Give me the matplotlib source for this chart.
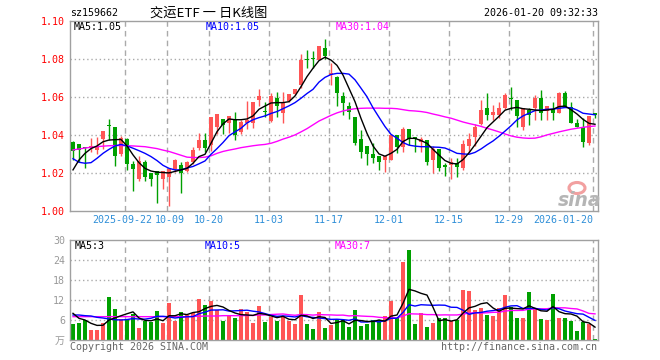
import matplotlib
matplotlib.use('Agg')
import matplotlib.pyplot as plt
from matplotlib.patches import Ellipse

plt.rcParams['font.family'] = ['DejaVu Sans Mono', 'Noto Sans CJK SC']

# ---------------- data ----------------
dates = ['2025-09-09', '2025-09-10', '2025-09-11', '2025-09-12', '2025-09-15', '2025-09-16',
         '2025-09-17', '2025-09-18', '2025-09-19', '2025-09-22', '2025-09-23', '2025-09-24',
         '2025-09-25', '2025-09-26', '2025-09-29', '2025-09-30', '2025-10-09', '2025-10-10',
         '2025-10-13', '2025-10-14', '2025-10-15', '2025-10-16', '2025-10-17', '2025-10-20',
         '2025-10-21', '2025-10-22', '2025-10-23', '2025-10-24', '2025-10-27', '2025-10-28',
         '2025-10-29', '2025-10-30', '2025-10-31', '2025-11-03', '2025-11-04', '2025-11-05',
         '2025-11-06', '2025-11-07', '2025-11-10', '2025-11-11', '2025-11-12', '2025-11-13',
         '2025-11-14', '2025-11-17', '2025-11-18', '2025-11-19', '2025-11-20', '2025-11-21',
         '2025-11-24', '2025-11-25', '2025-11-26', '2025-11-27', '2025-11-28', '2025-12-01',
         '2025-12-02', '2025-12-03', '2025-12-04', '2025-12-05', '2025-12-08', '2025-12-09',
         '2025-12-10', '2025-12-11', '2025-12-12', '2025-12-15', '2025-12-16', '2025-12-17',
         '2025-12-18', '2025-12-19', '2025-12-22', '2025-12-23', '2025-12-24', '2025-12-25',
         '2025-12-26', '2025-12-29', '2025-12-30', '2025-12-31', '2026-01-05', '2026-01-06',
         '2026-01-07', '2026-01-08', '2026-01-09', '2026-01-12', '2026-01-13', '2026-01-14',
         '2026-01-15', '2026-01-16', '2026-01-19', '2026-01-20']

opens = [1.0365, 1.0354, 1.0337, 1.0333, 1.0323, 1.0379, 1.0452, 1.0442, 1.0302, 1.0379,
         1.0249, 1.0172, 1.0260, 1.0200, 1.0211, 1.0172, 1.0182, 1.0222, 1.0244, 1.0214,
         1.0260, 1.0333, 1.0375, 1.0347, 1.0442, 1.0484, 1.0463, 1.0484, 1.0418, 1.0466,
         1.0463, 1.0586, 1.0530, 1.0477, 1.0596, 1.0516, 1.0582, 1.0617, 1.0665, 1.0800,
         1.0805, 1.0796, 1.0858, 1.0720, 1.0709, 1.0607, 1.0554, 1.0495, 1.0379, 1.0344,
         1.0302, 1.0291, 1.0270, 1.0270, 1.0400, 1.0337, 1.0432, 1.0390, 1.0367, 1.0375,
         1.0270, 1.0326, 1.0244, 1.0244, 1.0253, 1.0226, 1.0344, 1.0393, 1.0460, 1.0542,
         1.0507, 1.0507, 1.0542, 1.0595, 1.0586, 1.0446, 1.0533, 1.0542, 1.0598, 1.0530,
         1.0537, 1.0516, 1.0621, 1.0551, 1.0467, 1.0442, 1.0358, 1.0516]
highs = [1.0368, 1.0356, 1.0340, 1.0385, 1.0392, 1.0425, 1.0486, 1.0442, 1.0395, 1.0384,
         1.0265, 1.0290, 1.0270, 1.0200, 1.0211, 1.0211, 1.0225, 1.0275, 1.0261, 1.0265,
         1.0337, 1.0410, 1.0410, 1.0495, 1.0512, 1.0484, 1.0502, 1.0523, 1.0480, 1.0579,
         1.0575, 1.0642, 1.0577, 1.0625, 1.0628, 1.0628, 1.0620, 1.0645, 1.0828, 1.0849,
         1.0842, 1.0870, 1.0905, 1.0780, 1.0712, 1.0630, 1.0577, 1.0498, 1.0428, 1.0344,
         1.0358, 1.0291, 1.0291, 1.0402, 1.0402, 1.0442, 1.0432, 1.0392, 1.0390, 1.0375,
         1.0344, 1.0330, 1.0253, 1.0279, 1.0279, 1.0375, 1.0411, 1.0460, 1.0586, 1.0621,
         1.0560, 1.0577, 1.0621, 1.0656, 1.0586, 1.0542, 1.0542, 1.0612, 1.0639, 1.0554,
         1.0577, 1.0630, 1.0635, 1.0577, 1.0484, 1.0491, 1.0502, 1.0516]
lows = [1.0272, 1.0262, 1.0230, 1.0310, 1.0300, 1.0328, 1.0375, 1.0238, 1.0290, 1.0220,
        1.0107, 1.0160, 1.0158, 1.0133, 1.0046, 1.0119, 1.0030, 1.0205, 1.0098, 1.0205,
        1.0250, 1.0325, 1.0310, 1.0320, 1.0407, 1.0405, 1.0410, 1.0375, 1.0407, 1.0435,
        1.0440, 1.0554, 1.0498, 1.0470, 1.0498, 1.0463, 1.0575, 1.0612, 1.0650, 1.0752,
        1.0752, 1.0796, 1.0800, 1.0665, 1.0554, 1.0507, 1.0486, 1.0350, 1.0279, 1.0244,
        1.0256, 1.0218, 1.0209, 1.0268, 1.0305, 1.0310, 1.0350, 1.0310, 1.0310, 1.0244,
        1.0200, 1.0210, 1.0186, 1.0168, 1.0179, 1.0218, 1.0305, 1.0344, 1.0455, 1.0480,
        1.0480, 1.0490, 1.0540, 1.0533, 1.0446, 1.0428, 1.0456, 1.0481, 1.0481, 1.0481,
        1.0481, 1.0516, 1.0550, 1.0467, 1.0446, 1.0340, 1.0349, 1.0491]
closes = [1.0315, 1.0323, 1.0332, 1.0342, 1.0340, 1.0425, 1.0448, 1.0291, 1.0384, 1.0249,
          1.0225, 1.0267, 1.0182, 1.0172, 1.0193, 1.0211, 1.0221, 1.0270, 1.0204, 1.0260,
          1.0323, 1.0375, 1.0333, 1.0495, 1.0512, 1.0456, 1.0502, 1.0403, 1.0470, 1.0478,
          1.0575, 1.0607, 1.0522, 1.0607, 1.0554, 1.0577, 1.0617, 1.0642, 1.0796, 1.0795,
          1.0800, 1.0870, 1.0817, 1.0730, 1.0621, 1.0568, 1.0524, 1.0358, 1.0314, 1.0302,
          1.0282, 1.0261, 1.0291, 1.0400, 1.0337, 1.0432, 1.0379, 1.0379, 1.0382, 1.0261,
          1.0326, 1.0226, 1.0235, 1.0261, 1.0235, 1.0354, 1.0379, 1.0446, 1.0533, 1.0507,
          1.0525, 1.0542, 1.0612, 1.0590, 1.0502, 1.0542, 1.0507, 1.0598, 1.0519, 1.0554,
          1.0519, 1.0621, 1.0551, 1.0467, 1.0446, 1.0367, 1.0502, 1.0507]

ma5 = [1.0218, 1.0270, 1.0305, 1.0330, 1.0344, 1.0366, 1.0375, 1.0377, 1.0378, 1.0344,
       1.0297, 1.0256, 1.0226, 1.0212, 1.0206, 1.0204, 1.0202, 1.0210, 1.0218, 1.0226,
       1.0253, 1.0288, 1.0300, 1.0358, 1.0419, 1.0460, 1.0486, 1.0482, 1.0482, 1.0486,
       1.0502, 1.0537, 1.0554, 1.0570, 1.0572, 1.0572, 1.0577, 1.0607, 1.0656, 1.0709,
       1.0753, 1.0793, 1.0811, 1.0796, 1.0768, 1.0717, 1.0647, 1.0577, 1.0489, 1.0410,
       1.0344, 1.0302, 1.0290, 1.0305, 1.0326, 1.0367, 1.0384, 1.0384, 1.0372, 1.0358,
       1.0326, 1.0296, 1.0267, 1.0253, 1.0249, 1.0272, 1.0308, 1.0350, 1.0395, 1.0440,
       1.0470, 1.0500, 1.0532, 1.0542, 1.0547, 1.0540, 1.0537, 1.0533, 1.0530, 1.0533,
       1.0537, 1.0551, 1.0554, 1.0535, 1.0512, 1.0484, 1.0463, 1.0458]
ma10 = [1.0277, 1.0258, 1.0253, 1.0256, 1.0279, 1.0305, 1.0326, 1.0344, 1.0352, 1.0344,
        1.0332, 1.0319, 1.0305, 1.0288, 1.0267, 1.0242, 1.0226, 1.0218, 1.0218, 1.0228,
        1.0236, 1.0250, 1.0265, 1.0300, 1.0330, 1.0362, 1.0398, 1.0418, 1.0437, 1.0465,
        1.0482, 1.0493, 1.0502, 1.0515, 1.0525, 1.0540, 1.0555, 1.0572, 1.0595, 1.0620,
        1.0642, 1.0680, 1.0705, 1.0720, 1.0726, 1.0726, 1.0722, 1.0692, 1.0648, 1.0603,
        1.0545, 1.0495, 1.0446, 1.0405, 1.0385, 1.0362, 1.0348, 1.0343, 1.0340, 1.0340,
        1.0338, 1.0337, 1.0333, 1.0320, 1.0305, 1.0302, 1.0300, 1.0310, 1.0328, 1.0350,
        1.0370, 1.0395, 1.0422, 1.0450, 1.0481, 1.0502, 1.0516, 1.0530, 1.0533, 1.0537,
        1.0538, 1.0542, 1.0546, 1.0545, 1.0533, 1.0516, 1.0512, 1.0508]
ma30 = [1.0323, 1.0328, 1.0333, 1.0337, 1.0340, 1.0343, 1.0345, 1.0346, 1.0346, 1.0345,
        1.0344, 1.0342, 1.0340, 1.0335, 1.0330, 1.0322, 1.0315, 1.0305, 1.0295, 1.0285,
        1.0283, 1.0283, 1.0285, 1.0292, 1.0305, 1.0315, 1.0322, 1.0328, 1.0335, 1.0340,
        1.0345, 1.0349, 1.0352, 1.0358, 1.0368, 1.0380, 1.0390, 1.0402, 1.0418, 1.0435,
        1.0455, 1.0475, 1.0490, 1.0505, 1.0518, 1.0528, 1.0535, 1.0540, 1.0542, 1.0543,
        1.0543, 1.0543, 1.0542, 1.0542, 1.0540, 1.0535, 1.0530, 1.0528, 1.0525, 1.0520,
        1.0512, 1.0505, 1.0497, 1.0490, 1.0480, 1.0470, 1.0462, 1.0455, 1.0447, 1.0437,
        1.0428, 1.0418, 1.0407, 1.0397, 1.0390, 1.0386, 1.0384, 1.0385, 1.0392, 1.0402,
        1.0410, 1.0418, 1.0425, 1.0432, 1.0437, 1.0442, 1.0446, 1.0449]

volumes = [4.8, 5.1, 6.0, 3.0, 3.0, 5.0, 12.9, 9.3, 6.2, 6.0,
           7.8, 3.7, 5.8, 5.5, 8.8, 5.1, 11.2, 5.8, 8.5, 7.5,
           8.2, 12.4, 10.5, 11.8, 9.0, 5.8, 7.2, 6.7, 9.3, 8.5,
           5.2, 10.2, 5.5, 6.8, 5.8, 7.2, 5.8, 4.8, 13.5, 4.8,
           3.3, 8.5, 3.7, 4.5, 6.2, 6.0, 3.8, 9.0, 4.2, 4.8,
           6.0, 6.0, 7.2, 11.8, 6.5, 23.5, 27.0, 4.8, 8.2, 3.9,
           5.2, 6.7, 6.7, 5.8, 6.0, 15.0, 14.7, 9.0, 9.7, 7.5,
           7.2, 9.7, 13.5, 10.0, 6.7, 6.7, 14.4, 9.7, 6.3, 6.0,
           13.8, 6.7, 6.7, 5.8, 2.8, 5.5, 4.8, 0.4]
vma5 = [8.0, 6.5, 6.0, 5.0,
        4.38, 4.42, 5.98, 6.64, 7.28, 7.88, 8.44, 6.6, 5.9, 5.76,
        6.32, 5.78, 7.28, 7.28, 7.88, 7.62, 8.24, 8.48, 9.42, 10.08,
        10.38, 9.9, 8.86, 8.1, 7.6, 7.5, 7.38, 7.98, 7.74, 7.24,
        6.7, 7.1, 6.22, 6.08, 7.42, 7.22, 6.44, 6.98, 6.76, 4.96,
        5.24, 5.78, 4.84, 5.9, 5.84, 5.56, 5.56, 6.0, 5.64, 7.16,
        7.5, 11.0, 15.2, 14.72, 14.0, 13.48, 9.82, 5.76, 6.14, 5.66,
        6.08, 8.04, 9.64, 10.1, 10.88, 11.18, 9.62, 8.62, 9.52, 9.58,
        9.42, 9.32, 10.26, 9.5, 8.76, 8.62, 10.04, 8.5, 7.9, 7.8,
        7.16, 5.5, 5.12, 3.86]
vma10 = [7.5, 7.5, 7.3, 7.2, 6.8, 6.6, 6.3, 6.1, 6.0,
         6.13, 6.43, 6.29, 6.27, 6.52, 7.1, 7.11, 6.94, 6.59, 6.82,
         6.97, 7.01, 7.88, 8.35, 8.98, 9.0, 9.07, 8.67, 8.76, 8.84,
         8.94, 8.64, 8.42, 7.92, 7.42, 7.1, 7.24, 7.1, 6.91, 7.33,
         6.96, 6.77, 6.6, 6.42, 6.19, 6.23, 6.11, 5.91, 6.33, 5.4,
         5.4, 5.67, 5.42, 5.77, 6.5, 6.53, 8.28, 10.6, 10.18, 10.58,
         10.49, 10.41, 10.48, 10.43, 9.83, 9.78, 8.93, 7.7, 8.12, 8.27,
         8.63, 8.83, 9.13, 9.81, 10.23, 10.3, 9.47, 9.44, 9.51, 9.17,
         9.02, 9.68, 9.38, 8.7, 8.28, 7.89, 7.77, 6.81, 5.88]
vma30 = [7.0, 7.0, 7.0, 7.0, 7.0, 7.0, 7.0, 7.0, 7.0, 7.0,
         7.0, 7.0, 7.0, 7.0, 7.0, 7.0, 7.0, 7.0, 7.0, 7.0,
         7.1, 7.1, 7.2, 7.2, 7.2, 7.3, 7.3, 7.3, 7.3,
         7.35, 7.36, 7.53, 7.51, 7.64, 7.73, 7.81, 7.57, 7.42, 7.66,
         7.62, 7.47, 7.63, 7.56, 7.53, 7.44, 7.47, 7.23, 7.33, 7.19,
         7.1, 7.03, 6.81, 6.70, 6.70, 6.62, 7.21, 7.87, 7.81, 7.77,
         7.62, 7.62, 7.5, 7.54, 7.51, 7.51, 7.77, 8.07, 8.21, 8.08,
         8.17, 8.30, 8.34, 8.67, 8.85, 8.87, 8.89, 9.25, 9.27, 9.34,
         9.38, 9.64, 9.66, 9.65, 9.45, 9.32, 8.72, 7.98, 7.84]

tick_dates = ['2025-09-22', '2025-10-09', '2025-10-20', '2025-11-03', '2025-11-17',
              '2025-12-01', '2025-12-15', '2025-12-29', '2026-01-20']
tick_labels = ['2025-09-22', '10-09', '10-20', '11-03', '11-17', '12-01', '12-15',
               '12-29', '2026-01-20']
price_ticks = [1.00, 1.02, 1.04, 1.06, 1.08, 1.10]
vol_ticks = [0, 6, 12, 18, 24, 30]
vol_tick_labels = ['万', '6', '12', '18', '24', '30']

# ---------------- layout ----------------
W, H = 660, 360
RED, GREEN = '#ff5555', '#00a000'
GRID = '#aaaaaa'
FS = 7.2

fig = plt.figure(figsize=(W / 100, H / 100), dpi=100)
fig.patch.set_facecolor('white')


def fx(px):
    return px / W


def fy(py):
    return 1 - py / H


L, R = 70, 598
ax1 = fig.add_axes([fx(L), fy(211.3), (R - L) / W, 190 / H])
ax2 = fig.add_axes([fx(L), fy(340), (R - L) / W, 100 / H])

n = len(dates)
xs = list(range(n))
colors = [RED if c >= o else GREEN for o, c in zip(opens, closes)]

for ax in (ax1, ax2):
    ax.set_xlim(-0.5, n - 0.5)
    ax.set_xticks([])
    for s in ax.spines.values():
        s.set_color('#a0a0a0')
        s.set_linewidth(1.0)
    ax.tick_params(axis='y', length=0, pad=3.5, labelsize=FS)
    ax.set_facecolor('white')

tick_pos = [dates.index(d) - 0.35 for d in tick_dates]

# --- price panel ---
ax1.set_ylim(1.00, 1.10)
ax1.set_yticks(price_ticks)
ax1.set_yticklabels(['%.2f' % v for v in price_ticks])
ax1.tick_params(axis='y', labelcolor='#ff0000')
for v in price_ticks[1:-1]:
    ax1.axhline(v, color=GRID, lw=1, ls=(0, (1, 2)), zorder=0)
for p in tick_pos:
    ax1.axvline(p, color=GRID, lw=1, ls=(0, (4, 3)), zorder=0)

bodies_bottom = [min(o, c) for o, c in zip(opens, closes)]
bodies_h = [max(abs(c - o), 0.0005) for o, c in zip(opens, closes)]
ax1.vlines(xs, lows, highs, colors=colors, lw=1, zorder=2)
ax1.bar(xs, bodies_h, bottom=bodies_bottom, width=0.82, color=colors, lw=0, zorder=3)
ax1.plot(xs, ma30, color='#ff00ff', lw=1, zorder=4)
ax1.plot(xs, ma10, color='#0000ff', lw=1, zorder=4)
ax1.plot(xs, ma5, color='black', lw=1, zorder=5)

# date labels (first two nudged apart a little, as they sit close together)
nudge = [-0.45, 0.45, 0, 0, 0, 0, 0, 0, 0]
tr = ax1.get_xaxis_transform()
for k, (p, lab) in enumerate(zip(tick_pos, tick_labels)):
    ha = 'right' if k == len(tick_pos) - 1 else 'center'
    ax1.text(p + nudge[k], -(220 - 211.3) / 190, lab, transform=tr, ha=ha, va='center',
             fontsize=FS, color='#2f8fd8')

# --- volume panel ---
ax2.set_ylim(0, 30)
ax2.set_yticks(vol_ticks)
ax2.set_yticklabels(vol_tick_labels)
ax2.tick_params(axis='y', labelcolor='#999999')
for v in vol_ticks[1:-1]:
    ax2.axhline(v, color=GRID, lw=1, ls=(0, (1, 2)), zorder=0)
for p in tick_pos:
    ax2.axvline(p, color=GRID, lw=1, ls=(0, (4, 3)), zorder=0)
ax2.bar(xs, volumes, width=0.82, color=colors, lw=0, zorder=2)
ax2.plot(xs, vma30, color='#ff00ff', lw=1, zorder=4)
ax2.plot(xs, vma10, color='#0000ff', lw=1, zorder=4)
ax2.plot(xs, vma5, color='black', lw=1, zorder=5)

# --- texts ---
fig.text(fx(70), fy(13), 'sz159662', fontsize=FS, ha='left', va='center', color='black')
fig.text(fx(150), fy(13), '交运ETF 一 日K线图', fontsize=9.5, ha='left', va='center',
         color='black', family=['Noto Sans CJK SC', 'DejaVu Sans'])
fig.text(fx(598), fy(13), '2026-01-20 09:32:33', fontsize=FS, ha='right', va='center',
         color='black')

fig.text(fx(74), fy(27), 'MA5:1.05', fontsize=FS, ha='left', va='center', color='black')
fig.text(fx(206), fy(27), 'MA10:1.05', fontsize=FS, ha='left', va='center', color='#0000ff')
fig.text(fx(336), fy(27), 'MA30:1.04', fontsize=FS, ha='left', va='center', color='#ff00ff')

fig.text(fx(75), fy(246), 'MA5:3', fontsize=FS, ha='left', va='center', color='black')
fig.text(fx(205), fy(246), 'MA10:5', fontsize=FS, ha='left', va='center', color='#0000ff')
fig.text(fx(335), fy(246), 'MA30:7', fontsize=FS, ha='left', va='center', color='#ff00ff')

fig.text(fx(70), fy(347), 'Copyright 2026 SINA.COM', fontsize=FS, ha='left', va='center',
         color='#666666')
fig.text(fx(597), fy(347), 'http://finance.sina.com.cn', fontsize=FS, ha='right',
         va='center', color='#666666')

# sina watermark
fig.patches.append(Ellipse((fx(577), fy(188)), 16 / W, 11 / H, transform=fig.transFigure,
                           facecolor='none', edgecolor='#f2a0a0', lw=2.2, zorder=6))
fig.text(fx(580), fy(200), 'sina', fontsize=13.5, ha='center', va='center',
         color='#b5b5b5', style='italic', weight='bold', family='DejaVu Sans', zorder=6)

fig.savefig('out.png', dpi=100, facecolor='white')
